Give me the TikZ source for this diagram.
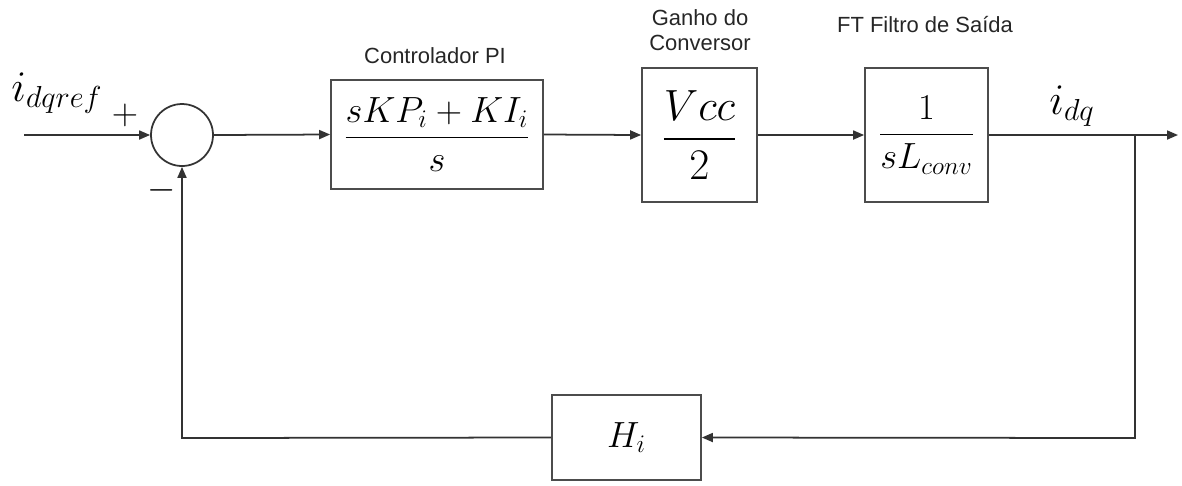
\documentclass[tikz,border=0pt]{standalone}
\usepackage{amsmath,amssymb}
\usepackage{fontspec}
\setsansfont{Liberation Sans}
\usepackage{tikz}
\usetikzlibrary{arrows.meta, positioning, calc}

\begin{document}
\begin{tikzpicture}[
		x=0.02cm, y=-0.02cm,
		line width=1pt, draw=black!80,
		arrow/.style={-{Triangle[length=2.2mm, width=1.8mm]}, line width=1pt, black!80},
		block/.style={draw=black!70, line width=1pt, rectangle, inner sep=0pt},
		title/.style={font=\sffamily\fontsize{12.5}{14}\selectfont, align=center, text=black!85},
		sign/.style={font=\fontsize{20}{22}\selectfont}
		]
		\useasboundingbox (0,0) rectangle (1182,485);
		
		% Nodes
		\node[draw=black!80, circle, minimum size=1.24cm, inner sep=0pt] (sum) at (182,135) {};
		\node[block, minimum width=4.24cm, minimum height=2.18cm] (pi) at (437,134.5)
			{\fontsize{19.5}{23}\selectfont $\dfrac{sKP_i+KI_i}{s}$};
		\node[block, minimum width=2.3cm, minimum height=2.68cm] (gain) at (699.5,135)
			{\fontsize{24}{28}\selectfont $\dfrac{Vcc}{2}$};
		\node[block, minimum width=2.46cm, minimum height=2.68cm] (plant) at (926.5,135)
			{\fontsize{20}{24}\selectfont $\dfrac{1}{sL_{conv}}$};
		\node[block, minimum width=2.98cm, minimum height=1.7cm] (hi) at (626.5,437.5)
			{\fontsize{21}{24}\selectfont $H_i$};
		
		\coordinate (in) at (24,135);
		\coordinate (out) at (1178,135);
		\coordinate (branch) at (1135,135);
		\coordinate (fbR) at (1135,438);
		\coordinate (fbL) at (182,438);
		
		% Labels
		\node[font=\fontsize{24}{26}\selectfont] (iref) at (57,93) {$i_{dqref}$};
		\node[font=\fontsize{23}{25}\selectfont] (iout) at (1072,106) {$i_{dq}$};
		\node[sign] (plus) at (125,115) {$+$};
		\node[sign] (minus) at (162,190) {$-$};
		\node[title] (tpi) at (435,56) {Controlador PI};
		\node[title] (tgain) at (700,30) {Ganho do\\[0pt]Conversor};
		\node[title] (tplant) at (925,25) {FT Filtro de Saída};
		
		% Forward path
		\draw[arrow] (in) -- (sum.west);
		\draw[arrow] (sum.east) -- (pi.west);
		\draw[arrow] (pi.east) -- (gain.west);
		\draw[arrow] (gain.east) -- (plant.west);
		\draw[arrow] (plant.east) -- (out);
		
		% Feedback path
		\draw[arrow] (branch) -- (fbR) -- (hi.east);
		\draw[arrow] (hi.west) -- (fbL) -- (sum.south);
		
	\end{tikzpicture}
\end{document}
